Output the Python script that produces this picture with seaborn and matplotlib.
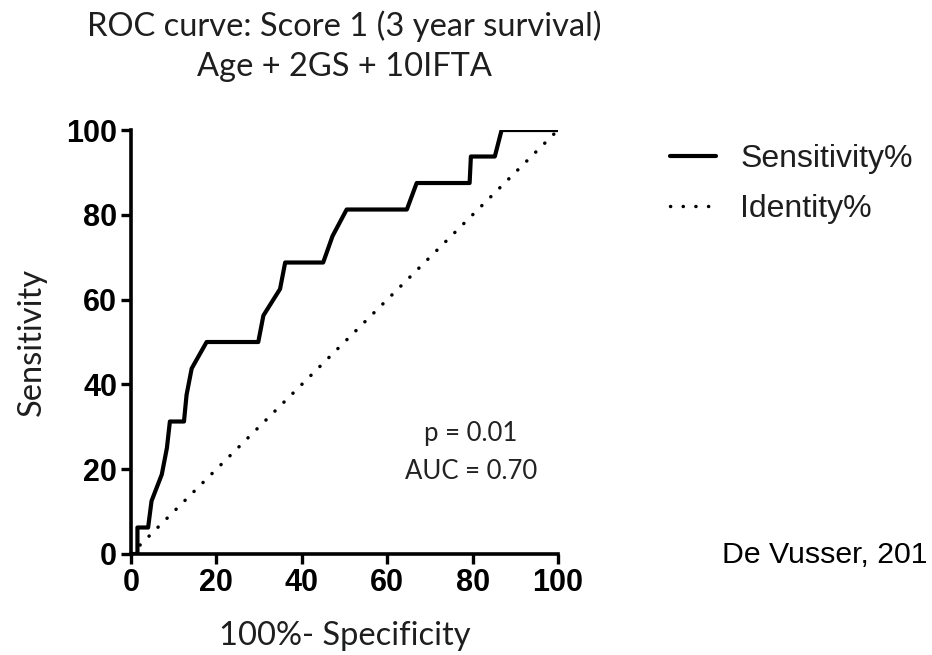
import matplotlib
matplotlib.use("Agg")
import matplotlib.pyplot as plt
import seaborn as sns
import pandas as pd

# ROC curve points (100% - specificity, sensitivity), in percent
fpr = [0, 1.5, 1.5, 4.0, 4.8, 7.2, 8.4, 9.1, 12.4, 13.0, 14.2, 17.7, 29.8,
       31.0, 34.9, 36.1, 45.0, 47.2, 50.5, 64.6, 66.9, 79.3, 79.6, 85.2,
       86.8, 100]
tpr = [0, 0, 6.25, 6.25, 12.5, 18.75, 25, 31.25, 31.25, 37.5, 43.75, 50,
       50, 56.25, 62.5, 68.75, 68.75, 75, 81.25, 81.25, 87.5, 87.5, 93.75,
       93.75, 100, 100]

# Identity (chance) line
identity_x = [0, 100]
identity_y = [0, 100]

ticks = [0, 20, 40, 60, 80, 100]
series_names = ["Sensitivity%", "Identity%"]
title_lines = ["ROC curve: Score 1 (3 year survival)", "Age + 2GS + 10IFTA"]
stats_text = "p = 0.01\nAUC = 0.70"
source_text = "De Vusser, 201"

sns.set_theme(style="ticks")
plt.rcParams["font.family"] = ["Liberation Sans", "DejaVu Sans"]

roc_df = pd.DataFrame({"x": fpr, "y": tpr})
id_df = pd.DataFrame({"x": identity_x, "y": identity_y})

fig = plt.figure(figsize=(9.32, 6.55), dpi=100)
ax = fig.add_axes([0.1406, 0.1542, 0.4581, 0.6473])

sns.lineplot(data=roc_df, x="x", y="y", sort=False, estimator=None, ax=ax,
             color="black", linewidth=2.4, label=series_names[0])
sns.lineplot(data=id_df, x="x", y="y", sort=False, estimator=None, ax=ax,
             color="black", linewidth=2.5, linestyle=(0, (0.05, 3.6)),
             dash_capstyle="round", label=series_names[1])

ax.set_xlim(0, 100)
ax.set_ylim(0, 100)
ax.set_xticks(ticks)
ax.set_yticks(ticks)
ax.set_xticklabels([str(t) for t in ticks], fontweight="bold", fontsize=22)
ax.set_yticklabels([str(t) for t in ticks], fontweight="bold", fontsize=22)
ax.tick_params(axis="both", length=7, width=2.4, color="black", pad=3,
               labelcolor="black")
for side in ["left", "bottom"]:
    ax.spines[side].set_linewidth(2.6)
    ax.spines[side].set_color("black")
sns.despine(ax=ax)
for spine in ax.spines.values():
    spine.set_capstyle("projecting")
ax.set_facecolor("white")

label_font = dict(family=["Lato", "DejaVu Sans"], fontsize=23.5, color="#1e1e1e")
ax.set_xlabel("100%- Specificity", labelpad=17, **label_font)
ax.set_ylabel("Sensitivity", labelpad=14, **label_font)

# Two-line title centred over the plotting area
title_font = dict(family=["Lato", "DejaVu Sans"], fontsize=23.5, color="#1e1e1e")
fig.text(0.3697, 1 - 26 / 655, title_lines[0], ha="center", va="center",
         **title_font)
fig.text(0.3697, 1 - 67 / 655, title_lines[1], ha="center", va="center",
         **title_font)

ax.text(79.6, 24.0, stats_text, ha="center", va="center", fontsize=18.5,
        family=["Lato", "DejaVu Sans"], color="#222222", linespacing=1.65)

ax.get_legend().remove()
handles, labels = ax.get_legend_handles_labels()
handles[0].set_linewidth(3.0)
fig.legend(handles, labels, loc="upper left",
           bbox_to_anchor=(670 / 932, 1 - 144 / 655),
           bbox_transform=fig.transFigure, frameon=False, fontsize=23,
           labelcolor="#1e1e1e",
           borderaxespad=0, borderpad=0, handlelength=1.45,
           handletextpad=0.75, labelspacing=0.62)

fig.text(722 / 932, 1 - 555 / 655, source_text, ha="left", va="center",
         fontsize=21.8, color="black")

fig.savefig("out.png", dpi=100, facecolor="white")
